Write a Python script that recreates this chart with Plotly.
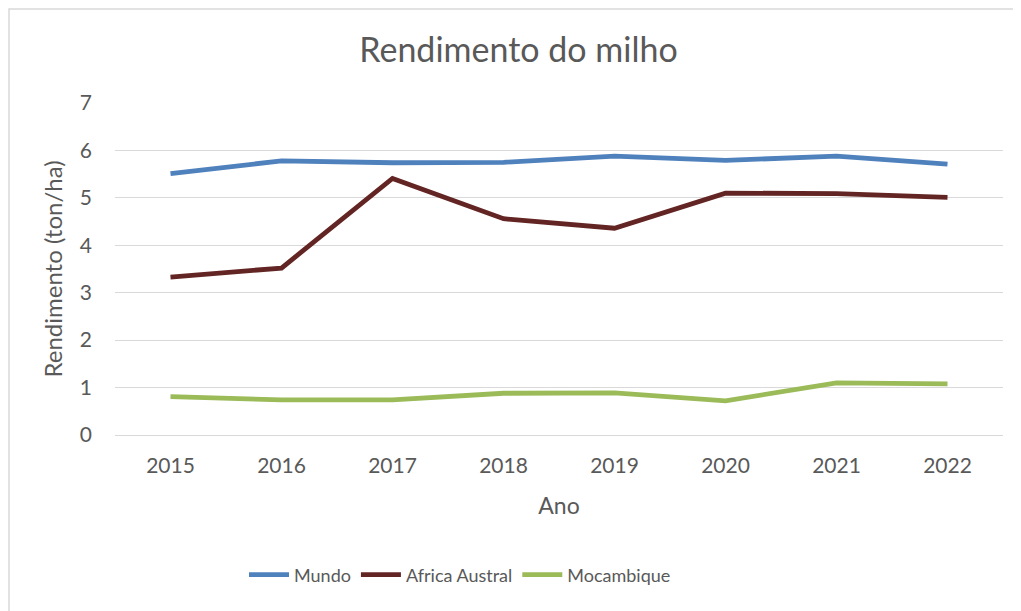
import plotly.graph_objects as go

anos = ["2015", "2016", "2017", "2018", "2019", "2020", "2021", "2022"]
mundo = [5.51, 5.78, 5.74, 5.75, 5.88, 5.79, 5.88, 5.71]
africa_austral = [3.33, 3.52, 5.41, 4.56, 4.36, 5.10, 5.09, 5.01]
mocambique = [0.81, 0.74, 0.74, 0.88, 0.89, 0.72, 1.10, 1.08]

series = [
    ("Mundo", mundo, "#4f81bd"),
    ("Africa Austral", africa_austral, "#632523"),
    ("Mocambique", mocambique, "#9bbb59"),
]

FONT = "Lato, Open Sans, sans-serif"
TXT = "#595959"

W, H = 1021, 611
L, R, T, B = 107, 26, 95, 184
PW, PH = W - L - R, H - T - B

fig = go.Figure()
for name, vals, color in series:
    fig.add_trace(go.Scatter(
        x=anos, y=vals, name=name, mode="lines",
        line=dict(color=color, width=4.8),
    ))

fig.update_layout(
    width=W, height=H,
    paper_bgcolor="white", plot_bgcolor="white",
    margin=dict(l=L, r=R, t=T, b=B),
    font=dict(family=FONT, color=TXT, size=20),
    title=dict(text="Rendimento do milho", x=0.5, xanchor="center",
               y=1 - 42 / H, yanchor="middle",
               font=dict(size=34, color=TXT, family=FONT)),
    xaxis=dict(
        type="category", range=[-0.5, 7.5],
        showgrid=False, showline=False, ticks="", ticklabelstandoff=16,
        tickfont=dict(size=21, color=TXT),
        title=dict(text="Ano", font=dict(size=23, color=TXT), standoff=21),
    ),
    yaxis=dict(
        range=[0, 7], dtick=1, showgrid=True, gridcolor="#d9d9d9", gridwidth=1.3,
        zeroline=True, zerolinecolor="#d9d9d9", zerolinewidth=1.3,
        showline=False, ticks="", ticklabelstandoff=22,
        tickfont=dict(size=21, color=TXT),
        title=dict(text="Rendimento (ton/ha)", font=dict(size=24, color=TXT), standoff=10),
    ),
    legend=dict(orientation="h", x=(452 - L) / PW, xanchor="center",
                y=-(567 - (T + PH)) / PH, yanchor="middle",
                font=dict(size=18, color=TXT), itemwidth=40, traceorder="normal",
                tracegroupgap=0),
    shapes=[dict(type="rect", xref="paper", yref="paper",
                 x0=-(L - 1) / PW, x1=1.2, y0=-0.8, y1=1 + (T - 1) / PH,
                 line=dict(color="#d9d9d9", width=1.5), fillcolor="rgba(0,0,0,0)", layer="below")],
)

fig.write_html("out.html")
